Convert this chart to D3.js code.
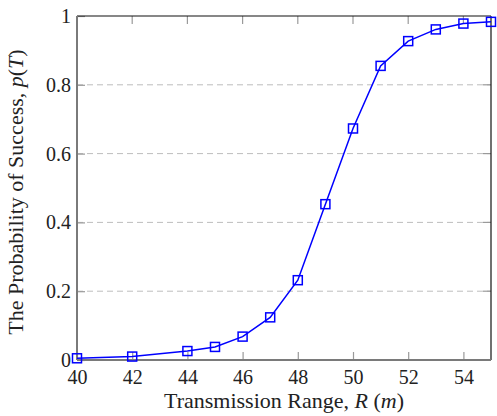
<!DOCTYPE html>
<html>
<head>
<meta charset="utf-8">
<script src="https://cdn.jsdelivr.net/npm/d3@7"></script>
<style>
  body { margin: 0; background: #fff; }
  svg { display: block; }
  text { font-family: "Liberation Serif", "DejaVu Serif", serif; fill: #222; }
</style>
</head>
<body>
<svg id="chart" width="497" height="416"></svg>
<script>
// data
var ranges = [40, 42, 44, 45, 46, 47, 48, 49, 50, 51, 52, 53, 54, 55];
var probs  = [0.005, 0.01, 0.026, 0.038, 0.068, 0.124, 0.232, 0.453, 0.673, 0.855, 0.927, 0.961, 0.978, 0.983];
var xTicks = [40, 42, 44, 46, 48, 50, 52, 54];
var yTicks = [0, 0.2, 0.4, 0.6, 0.8, 1];

var margin = { top: 16, right: 6, bottom: 56, left: 77 },
    width  = 497 - margin.left - margin.right,
    height = 416 - margin.top - margin.bottom;

var data = ranges.map(function(r, i){ return { r: r, p: probs[i] }; });

var x = d3.scaleLinear().domain([40, 55]).range([0, width]);
var y = d3.scaleLinear().domain([0, 1]).range([height, 0]);

var svg = d3.select('#chart')
  .append('g')
  .attr('transform', 'translate(' + margin.left + ',' + margin.top + ')');

// dashed grid
svg.selectAll('.grid')
  .data(yTicks.filter(function(d){ return d > 0 && d < 1; }))
  .enter().append('line')
  .attr('x1', 0).attr('x2', width)
  .attr('y1', function(d){ return y(d); })
  .attr('y2', function(d){ return y(d); })
  .attr('stroke', '#bdbdbd')
  .attr('stroke-width', 1)
  .attr('stroke-dasharray', '6,4');

// inner ticks on top and right
svg.selectAll('.ttick')
  .data(xTicks.slice(1))
  .enter().append('line')
  .attr('x1', function(d){ return x(d); }).attr('x2', function(d){ return x(d); })
  .attr('y1', 0).attr('y2', 8)
  .attr('stroke', '#9a9a9a').attr('stroke-width', 1.2);

svg.selectAll('.rtick')
  .data(yTicks.slice(1, -1))
  .enter().append('line')
  .attr('x1', width).attr('x2', width - 8)
  .attr('y1', function(d){ return y(d); }).attr('y2', function(d){ return y(d); })
  .attr('stroke', '#9a9a9a').attr('stroke-width', 1.2);

// bottom / left axes
var xAxis = d3.axisBottom(x).tickValues(xTicks).tickSize(-8).tickPadding(10)
  .tickFormat(d3.format('d'));
var yAxis = d3.axisLeft(y).tickValues(yTicks).tickSize(-8).tickPadding(6)
  .tickFormat(function(d){ return d === 0 || d === 1 ? d : d.toFixed(1); });

var gx = svg.append('g')
  .attr('transform', 'translate(0,' + height + ')')
  .call(xAxis);
var gy = svg.append('g').call(yAxis);

[gx, gy].forEach(function(g){
  g.attr('font-family', null);
  g.select('.domain').remove();
  g.selectAll('line').attr('stroke', '#9a9a9a').attr('stroke-width', 1.2);
  g.selectAll('text')
    .style('font-family', '"Liberation Serif", serif')
    .attr('font-size', '20px')
    .attr('fill', '#222');
});

// frame: top/right black, left/bottom gray
svg.append('line').attr('x1', 0).attr('x2', width).attr('y1', 0).attr('y2', 0)
  .attr('stroke', '#111').attr('stroke-width', 1.2);
svg.append('line').attr('x1', width).attr('x2', width).attr('y1', 0).attr('y2', height)
  .attr('stroke', '#111').attr('stroke-width', 1.2);
svg.append('line').attr('x1', 0).attr('x2', width).attr('y1', height).attr('y2', height)
  .attr('stroke', '#7a7a7a').attr('stroke-width', 2);
svg.append('line').attr('x1', 0).attr('x2', 0).attr('y1', 0).attr('y2', height)
  .attr('stroke', '#7a7a7a').attr('stroke-width', 2);

// series
var line = d3.line()
  .x(function(d){ return x(d.r); })
  .y(function(d){ return y(d.p); });

svg.append('path')
  .datum(data)
  .attr('d', line)
  .attr('fill', 'none')
  .attr('stroke', '#0000ff')
  .attr('stroke-width', 1.5);

svg.selectAll('.mark')
  .data(data)
  .enter().append('rect')
  .attr('x', function(d){ return x(d.r) - 4.5; })
  .attr('y', function(d){ return y(d.p) - 4.5; })
  .attr('width', 9).attr('height', 9)
  .attr('fill', 'none')
  .attr('stroke', '#0000ff')
  .attr('stroke-width', 1.5);

// axis titles
var xt = svg.append('text')
  .attr('x', 207)
  .attr('y', height + 48)
  .attr('font-size', '22px')
  .style('text-anchor', 'middle');
xt.append('tspan').text('Transmission Range, ');
xt.append('tspan').attr('font-style', 'italic').text('R');
xt.append('tspan').text(' (');
xt.append('tspan').attr('font-style', 'italic').text('m');
xt.append('tspan').text(')');

var yt = svg.append('text')
  .attr('transform', 'translate(' + (-54) + ',' + 176 + ') rotate(-90)')
  .attr('font-size', '22px')
  .style('text-anchor', 'middle');
yt.append('tspan').text('The Probability of Success, ');
yt.append('tspan').attr('font-style', 'italic').text('p');
yt.append('tspan').text('(');
yt.append('tspan').attr('font-style', 'italic').text('T');
yt.append('tspan').text(')');
</script>
</body>
</html>
